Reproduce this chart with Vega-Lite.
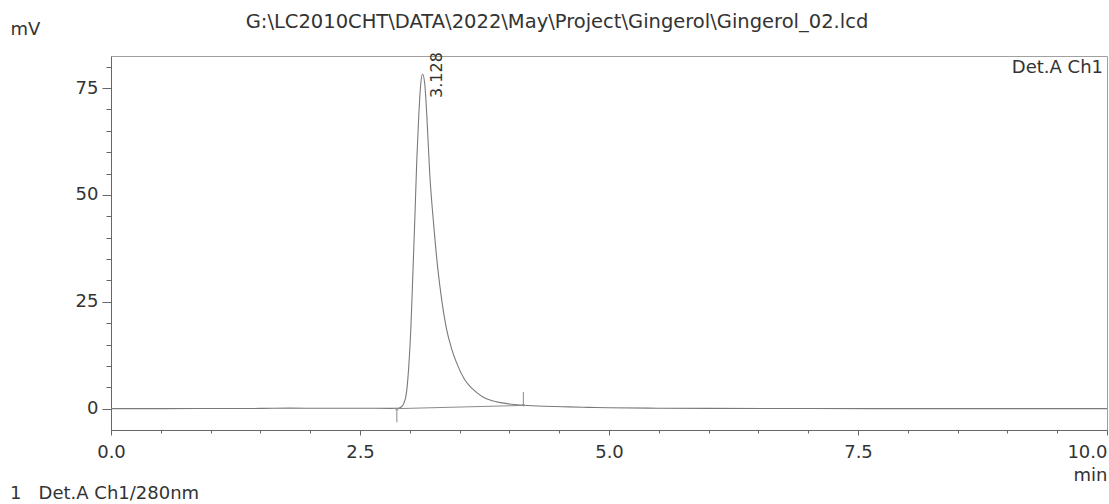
{
  "$schema": "https://vega.github.io/schema/vega-lite/v6.json",
  "width": 996,
  "height": 374,
  "autosize": {"type": "none"},
  "padding": {"left": 111, "top": 56, "right": 2, "bottom": 74},
  "background": "white",
  "config": {
    "font": "DejaVu Sans",
    "view": {"stroke": "#a0a0a0", "strokeWidth": 1},
    "axis": {
      "labelFont": "DejaVu Sans", "labelFontSize": 18, "labelColor": "#333",
      "titleFont": "DejaVu Sans", "titleFontSize": 18, "titleColor": "#333", "titleFontWeight": "normal",
      "domainColor": "#666", "tickColor": "#666", "grid": false
    }
  },
  "title": {
    "text": "G:\\LC2010CHT\\DATA\\2022\\May\\Project\\Gingerol\\Gingerol_02.lcd",
    "font": "DejaVu Sans", "fontSize": 19.5, "fontWeight": "normal", "color": "#333",
    "anchor": "middle", "dx": -52, "baseline": "alphabetic", "offset": -27
  },
  "datasets": {
    "signal": [
      {"time": 0.0, "mV": 0.0, "channel": "Det.A Ch1/280nm"},
      {"time": 0.5, "mV": 0.0, "channel": "Det.A Ch1/280nm"},
      {"time": 1.0, "mV": 0.02, "channel": "Det.A Ch1/280nm"},
      {"time": 1.5, "mV": 0.05, "channel": "Det.A Ch1/280nm"},
      {"time": 1.8, "mV": 0.12, "channel": "Det.A Ch1/280nm"},
      {"time": 2.1, "mV": 0.08, "channel": "Det.A Ch1/280nm"},
      {"time": 2.5, "mV": 0.1, "channel": "Det.A Ch1/280nm"},
      {"time": 2.8, "mV": 0.05, "channel": "Det.A Ch1/280nm"},
      {"time": 2.88, "mV": 0.08, "channel": "Det.A Ch1/280nm"},
      {"time": 2.92, "mV": 0.5, "channel": "Det.A Ch1/280nm"},
      {"time": 2.96, "mV": 2.8, "channel": "Det.A Ch1/280nm"},
      {"time": 2.99, "mV": 10, "channel": "Det.A Ch1/280nm"},
      {"time": 3.01, "mV": 18.5, "channel": "Det.A Ch1/280nm"},
      {"time": 3.03, "mV": 31, "channel": "Det.A Ch1/280nm"},
      {"time": 3.05, "mV": 44, "channel": "Det.A Ch1/280nm"},
      {"time": 3.07, "mV": 58, "channel": "Det.A Ch1/280nm"},
      {"time": 3.09, "mV": 68.5, "channel": "Det.A Ch1/280nm"},
      {"time": 3.11, "mV": 76, "channel": "Det.A Ch1/280nm"},
      {"time": 3.128, "mV": 78.3, "channel": "Det.A Ch1/280nm"},
      {"time": 3.15, "mV": 76, "channel": "Det.A Ch1/280nm"},
      {"time": 3.17, "mV": 69, "channel": "Det.A Ch1/280nm"},
      {"time": 3.2, "mV": 55, "channel": "Det.A Ch1/280nm"},
      {"time": 3.24, "mV": 43, "channel": "Det.A Ch1/280nm"},
      {"time": 3.28, "mV": 33, "channel": "Det.A Ch1/280nm"},
      {"time": 3.32, "mV": 25.5, "channel": "Det.A Ch1/280nm"},
      {"time": 3.37, "mV": 18.5, "channel": "Det.A Ch1/280nm"},
      {"time": 3.42, "mV": 14, "channel": "Det.A Ch1/280nm"},
      {"time": 3.47, "mV": 10.7, "channel": "Det.A Ch1/280nm"},
      {"time": 3.55, "mV": 6.8, "channel": "Det.A Ch1/280nm"},
      {"time": 3.63, "mV": 4.6, "channel": "Det.A Ch1/280nm"},
      {"time": 3.73, "mV": 2.8, "channel": "Det.A Ch1/280nm"},
      {"time": 3.82, "mV": 1.9, "channel": "Det.A Ch1/280nm"},
      {"time": 3.91, "mV": 1.4, "channel": "Det.A Ch1/280nm"},
      {"time": 4.0, "mV": 1.1, "channel": "Det.A Ch1/280nm"},
      {"time": 4.11, "mV": 0.85, "channel": "Det.A Ch1/280nm"},
      {"time": 4.3, "mV": 0.6, "channel": "Det.A Ch1/280nm"},
      {"time": 4.6, "mV": 0.4, "channel": "Det.A Ch1/280nm"},
      {"time": 4.8, "mV": 0.3, "channel": "Det.A Ch1/280nm"},
      {"time": 5.0, "mV": 0.2, "channel": "Det.A Ch1/280nm"},
      {"time": 5.5, "mV": 0.1, "channel": "Det.A Ch1/280nm"},
      {"time": 6.0, "mV": 0.05, "channel": "Det.A Ch1/280nm"},
      {"time": 7.0, "mV": 0.02, "channel": "Det.A Ch1/280nm"},
      {"time": 8.0, "mV": 0.0, "channel": "Det.A Ch1/280nm"},
      {"time": 9.0, "mV": 0.0, "channel": "Det.A Ch1/280nm"},
      {"time": 10.0, "mV": 0.0, "channel": "Det.A Ch1/280nm"}
    ],
    "baseline": [
      {"time": 2.87, "mV": 0.0},
      {"time": 4.14, "mV": 0.75}
    ],
    "markers": [
      {"time": 2.87, "tail": -3.2, "head": 0.0, "dir": "up"},
      {"time": 4.14, "tail": 3.9, "head": 0.75, "dir": "down"}
    ],
    "peaks": [
      {"time": 3.128, "mV": 78.3, "label": "3.128"}
    ],
    "detector": [
      {"time": 10, "mV": 82.5, "label": "Det.A Ch1"}
    ]
  },
  "layer": [
    {
      "data": {"name": "signal"},
      "mark": {"type": "line", "interpolate": "monotone", "strokeWidth": 1.1, "clip": true},
      "encoding": {
        "x": {
          "field": "time", "type": "quantitative",
          "scale": {"domain": [0, 10], "nice": false, "zero": false},
          "axis": {
            "orient": "bottom",
            "values": [0, 2.5, 5, 7.5, 10], "format": ".1f",
            "tickSize": 5, "labelPadding": 8, "labelOverlap": false,
            "labelAlign": {"condition": {"test": "datum.value == 10", "value": "right"}, "value": "center"},
            "title": "min", "titleX": 996, "titleY": 50, "titleAlign": "right",
            "titleBaseline": "alphabetic", "titleAnchor": null
          }
        },
        "y": {
          "field": "mV", "type": "quantitative",
          "scale": {"domain": [-5, 82.5], "nice": false, "zero": false},
          "axis": {
            "orient": "left",
            "values": [0, 25, 50, 75], "tickSize": 9, "labelPadding": 4,
            "title": "mV", "titleAngle": 0, "titleX": -101, "titleY": -22,
            "titleAlign": "left", "titleBaseline": "alphabetic", "titleAnchor": null
          }
        },
        "color": {
          "field": "channel", "type": "nominal",
          "scale": {"range": ["#7a7a7a"]},
          "legend": {
            "orient": "none", "legendX": -119, "legendY": 429, "title": null,
            "labelExpr": "'1\u00a0\u00a0\u00a0' + datum.label",
            "symbolSize": 0, "symbolOpacity": 0, "symbolStrokeWidth": 0,
            "labelFontSize": 18, "labelColor": "#333", "labelFont": "DejaVu Sans",
            "labelLimit": 400, "padding": 0, "labelOffset": 0
          }
        }
      }
    },
    {
      "data": {"name": "baseline"},
      "mark": {"type": "line", "color": "#8a8a8a", "strokeWidth": 1},
      "encoding": {
        "x": {
          "field": "time", "type": "quantitative",
          "scale": {"domain": [0, 10], "nice": false, "zero": false},
          "axis": {
            "orient": "bottom", "values": [0.5, 1, 1.5, 2, 3, 3.5, 4, 4.5, 5.5, 6, 6.5, 7, 8, 8.5, 9, 9.5],
            "labels": false, "tickSize": 3, "domain": false, "title": null
          }
        },
        "y": {
          "field": "mV", "type": "quantitative",
          "scale": {"domain": [-5, 82.5], "nice": false, "zero": false},
          "axis": {
            "orient": "left", "values": [5, 10, 15, 20, 30, 35, 40, 45, 55, 60, 65, 70, 80],
            "labels": false, "tickSize": 5, "domain": false, "title": null
          }
        }
      }
    },
    {
      "data": {"name": "markers"},
      "mark": {"type": "rule", "color": "#8a8a8a", "strokeWidth": 1},
      "encoding": {
        "x": {"field": "time", "type": "quantitative", "scale": {"domain": [0, 10], "nice": false, "zero": false}, "axis": null},
        "y": {"field": "tail", "type": "quantitative", "scale": {"domain": [-5, 82.5], "nice": false, "zero": false}, "axis": null},
        "y2": {"field": "head"}
      }
    },
    {
      "data": {"name": "markers"},
      "mark": {"type": "point", "filled": true, "color": "#8a8a8a", "size": 12},
      "encoding": {
        "x": {"field": "time", "type": "quantitative", "scale": {"domain": [0, 10], "nice": false, "zero": false}, "axis": null},
        "y": {"field": "head", "type": "quantitative", "scale": {"domain": [-5, 82.5], "nice": false, "zero": false}, "axis": null},
        "shape": {"field": "dir", "type": "nominal", "scale": {"domain": ["up", "down"], "range": ["triangle-up", "triangle-down"]}, "legend": null}
      }
    },
    {
      "data": {"name": "peaks"},
      "mark": {"type": "text", "angle": 270, "align": "left", "baseline": "alphabetic", "dx": -24, "dy": 19, "fontSize": 16, "color": "#333", "font": "DejaVu Sans"},
      "encoding": {
        "x": {"field": "time", "type": "quantitative", "scale": {"domain": [0, 10], "nice": false, "zero": false}, "axis": null},
        "y": {"field": "mV", "type": "quantitative", "scale": {"domain": [-5, 82.5], "nice": false, "zero": false}, "axis": null},
        "text": {"field": "label"}
      }
    },
    {
      "data": {"name": "detector"},
      "mark": {"type": "text", "align": "right", "baseline": "top", "dx": -4, "dy": 3, "fontSize": 18, "color": "#333", "font": "DejaVu Sans"},
      "encoding": {
        "x": {"field": "time", "type": "quantitative", "scale": {"domain": [0, 10], "nice": false, "zero": false}, "axis": null},
        "y": {"field": "mV", "type": "quantitative", "scale": {"domain": [-5, 82.5], "nice": false, "zero": false}, "axis": null},
        "text": {"field": "label"}
      }
    }
  ],
  "resolve": {"axis": {"x": "independent", "y": "independent"}}
}
